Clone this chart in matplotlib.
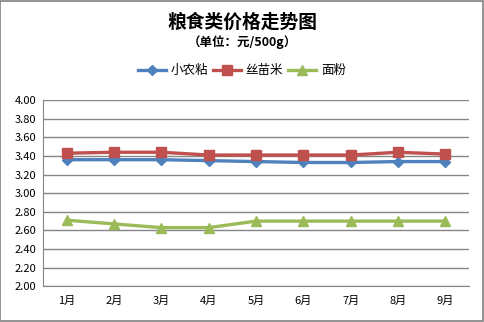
import matplotlib
matplotlib.use("Agg")
import matplotlib.pyplot as plt
from matplotlib.patches import Rectangle

plt.rcParams['font.family'] = ['Noto Sans CJK SC', 'DejaVu Sans']

months = ['1月', '2月', '3月', '4月', '5月', '6月', '7月', '8月', '9月']
xiaonongzhan = [3.36, 3.36, 3.36, 3.35, 3.34, 3.33, 3.33, 3.34, 3.34]
simiaomi = [3.43, 3.44, 3.44, 3.41, 3.41, 3.41, 3.41, 3.44, 3.42]
mianfen = [2.71, 2.67, 2.63, 2.63, 2.70, 2.70, 2.70, 2.70, 2.70]
yticks = [2.0, 2.2, 2.4, 2.6, 2.8, 3.0, 3.2, 3.4, 3.6, 3.8, 4.0]

fig = plt.figure(figsize=(4.84, 3.22), dpi=100)
ax = fig.add_axes([0.089, 0.111, 0.880, 0.578])

x = range(len(months))
ax.plot(x, xiaonongzhan, color='#4F81BD', lw=2.4, marker='D', ms=5.5,
        label='小农粘', zorder=3)
ax.plot(x, simiaomi, color='#C0504D', lw=2.4, marker='s', ms=7.5,
        label='丝苗米', zorder=3)
ax.plot(x, mianfen, color='#9BBB59', lw=2.4, marker='^', ms=7.5,
        label='面粉', zorder=3)

ax.set_xlim(-0.5, len(months) - 0.5)
ax.set_ylim(2.0, 4.0)
ax.set_yticks(yticks)
ax.set_yticklabels(['%.2f' % v for v in yticks])
ax.set_xticks(list(x))
ax.set_xticklabels(months)
ax.tick_params(axis='both', length=0, labelsize=8, pad=7)
ax.tick_params(axis='y', pad=5)
ax.grid(axis='y', color='#868686', lw=1)
ax.set_axisbelow(True)
for s in ['top', 'right']:
    ax.spines[s].set_visible(False)
for s in ['left', 'bottom']:
    ax.spines[s].set_color('#868686')

fig.text(0.5, 0.93, '粮食类价格走势图', ha='center', va='center',
         fontsize=13.5, fontweight='bold')
fig.text(0.5, 0.868, '（单位：元/500g）', ha='center', va='center',
         fontsize=9, fontweight='bold')
fig.legend(loc='center', bbox_to_anchor=(0.5, 0.78), ncol=3, frameon=False,
           fontsize=9, handlelength=2.2, columnspacing=0.4, handletextpad=0.4)

fig.patches.append(Rectangle((0.001, 0.002), 0.997, 0.996, transform=fig.transFigure,
                             fill=False, edgecolor='#808080', lw=1.2))

fig.savefig('out.png', dpi=100)
